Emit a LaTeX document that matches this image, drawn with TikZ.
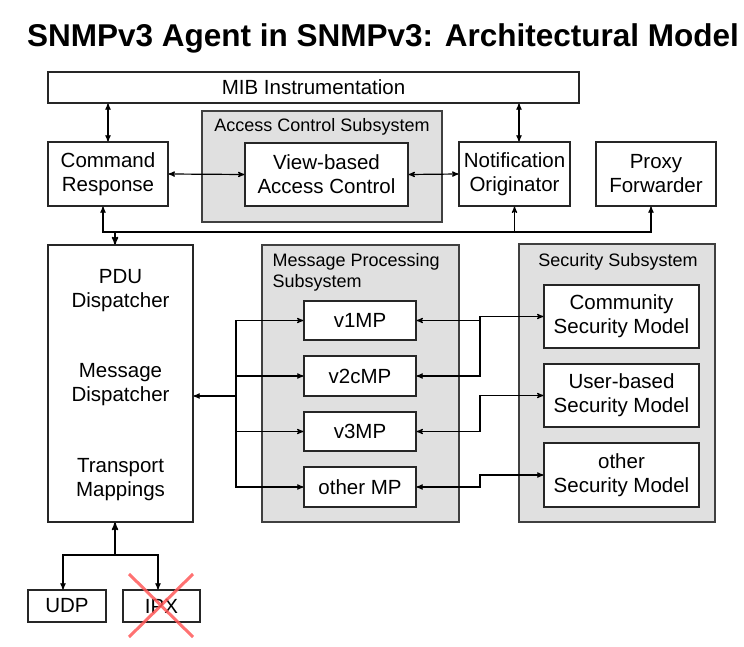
\documentclass[tikz,border=0pt]{standalone}
\usepackage{fontspec}
\setmainfont{Liberation Sans}
\usepackage{tikz}
\usetikzlibrary{arrows,positioning,calc}

\begin{document}
\begin{tikzpicture}[x=1pt,y=-1pt,>=stealth',line width=1.2pt,
    main node/.style={rectangle,draw=black!85,fill=white,align=center,
    font=\fontsize{20.5}{24}\selectfont,inner sep=0pt},
    group node/.style={rectangle,draw=black!75,fill=black!12,inner sep=0pt},
    label node/.style={font=\fontsize{18}{20.5}\selectfont,inner sep=0pt},
    text node/.style={font=\fontsize{20.5}{24}\selectfont,align=center,inner sep=0pt},
    cross/.style={draw=red!65!white,line width=3pt,opacity=0.85}]

    \useasboundingbox (0,0) rectangle (744,647);

    \node[font=\fontsize{31.5}{36}\selectfont\bfseries] (Title) at (383,38) {SNMPv3 Agent in SNMPv3: Architectural Model};

    % top row
    \node[main node,minimum width=531pt,minimum height=31pt] (MIBInstrumentation) at (313.5,87.5) {MIB Instrumentation};

    \node[group node,minimum width=240pt,minimum height=111pt] (AccessControlSubsystem) at (322,166.5) {};
    \node[label node] (AccessControlLabel) at (322,127) {Access Control Subsystem};

    \node[main node,minimum width=120pt,minimum height=64pt] (CommandResponse) at (108,174) {Command\\Response};
    \node[main node,minimum width=163pt,minimum height=63pt] (ViewBased) at (326.5,174.5) {View-based\\Access Control};
    \node[main node,minimum width=111pt,minimum height=64pt] (NotificationOriginator) at (514.5,174) {Notification\\Originator};
    \node[main node,minimum width=120pt,minimum height=64pt] (ProxyForwarder) at (656,174) {Proxy\\Forwarder};

    % dispatcher
    \node[main node,minimum width=145pt,minimum height=277pt] (Dispatcher) at (120.5,383.5) {};
    \node[text node] (PDUDispatcher) at (120.5,291) {PDU\\Dispatcher};
    \node[text node] (MessageDispatcher) at (120.5,385) {Message\\Dispatcher};
    \node[text node] (TransportMappings) at (120.5,480) {Transport\\Mappings};

    % message processing
    \node[group node,minimum width=197pt,minimum height=277pt] (MessageProcessing) at (360.5,383.5) {};
    \node[label node,align=left,anchor=north west] (MessageProcessingLabel) at (272,253) {Message Processing\\Subsystem};
    \node[main node,minimum width=112pt,minimum height=39pt] (vOneMP) at (360,320.5) {v1MP};
    \node[main node,minimum width=112pt,minimum height=40pt] (vTwocMP) at (360,376) {v2cMP};
    \node[main node,minimum width=112pt,minimum height=39pt] (vThreeMP) at (360,431.5) {v3MP};
    \node[main node,minimum width=112pt,minimum height=40pt] (OtherMP) at (360,487) {other MP};

    % security
    \node[group node,minimum width=196pt,minimum height=278pt] (SecuritySubsystem) at (617,383) {};
    \node[label node] (SecurityLabel) at (618,262) {Security Subsystem};
    \node[main node,minimum width=155pt,minimum height=63pt] (CommunityModel) at (621.5,316.5) {Community\\Security Model};
    \node[main node,minimum width=155pt,minimum height=63pt] (UserBasedModel) at (621.5,395.5) {User-based\\Security Model};
    \node[main node,minimum width=155pt,minimum height=64pt] (OtherSecurityModel) at (621.5,475) {other\\Security Model};

    % transports
    \node[main node,minimum width=78pt,minimum height=32pt] (UDP) at (67,606) {UDP};
    \node[main node,minimum width=77pt,minimum height=32pt] (IPX) at (161.5,606) {IPX};

    \coordinate (AppBus) at (115,232);
    \coordinate (MPBus) at (236,396);
    \coordinate (SecBus) at (480,396);
    \coordinate (TransportBus) at (115,555);

    \draw [<->] (CommandResponse.north) -- (CommandResponse.north |- MIBInstrumentation.south);
    \draw [<->] ([xshift=4.5pt]NotificationOriginator.north) -- ([xshift=4.5pt]NotificationOriginator.north |- MIBInstrumentation.south);
    \draw [<->] (CommandResponse.east) -- (ViewBased.west);
    \draw [<->] (ViewBased.east) -- (NotificationOriginator.west);

    \draw [->] (AppBus) -| ([xshift=-5pt]CommandResponse.south);
    \draw [->] (AppBus) -| (NotificationOriginator.south);
    \draw [->] (AppBus) -| ([xshift=-5pt]ProxyForwarder.south);
    \draw [->,line width=1.6pt] (AppBus) -- (AppBus |- Dispatcher.north);

    \draw [->] (MPBus) -- (MPBus -| Dispatcher.east);
    \draw [->] (MPBus) |- (vOneMP.west);
    \draw [->] (MPBus) |- (vTwocMP.west);
    \draw [->] (MPBus) |- (vThreeMP.west);
    \draw [->] (MPBus) |- (OtherMP.west);

    \draw [<->] (vOneMP.east) -- (vOneMP.east -| SecBus) |- (CommunityModel.west);
    \draw [->] (SecBus |- CommunityModel.west) |- (vTwocMP.east);
    \draw [<->] (vThreeMP.east) -- (vThreeMP.east -| SecBus) |- (UserBasedModel.west);
    \draw [<->] (OtherMP.east) -- (OtherMP.east -| SecBus) |- (OtherSecurityModel.west);

    \draw [->,line width=1.6pt] (TransportBus) -- (TransportBus |- Dispatcher.south);
    \draw [->] (TransportBus) -| ([xshift=-4pt]UDP.north);
    \draw [->] (TransportBus) -| ([xshift=-3.5pt]IPX.north);

    \draw [cross] (129,574) -- (193,637) (193,574) -- (129,637);
\end{tikzpicture}
\end{document}
